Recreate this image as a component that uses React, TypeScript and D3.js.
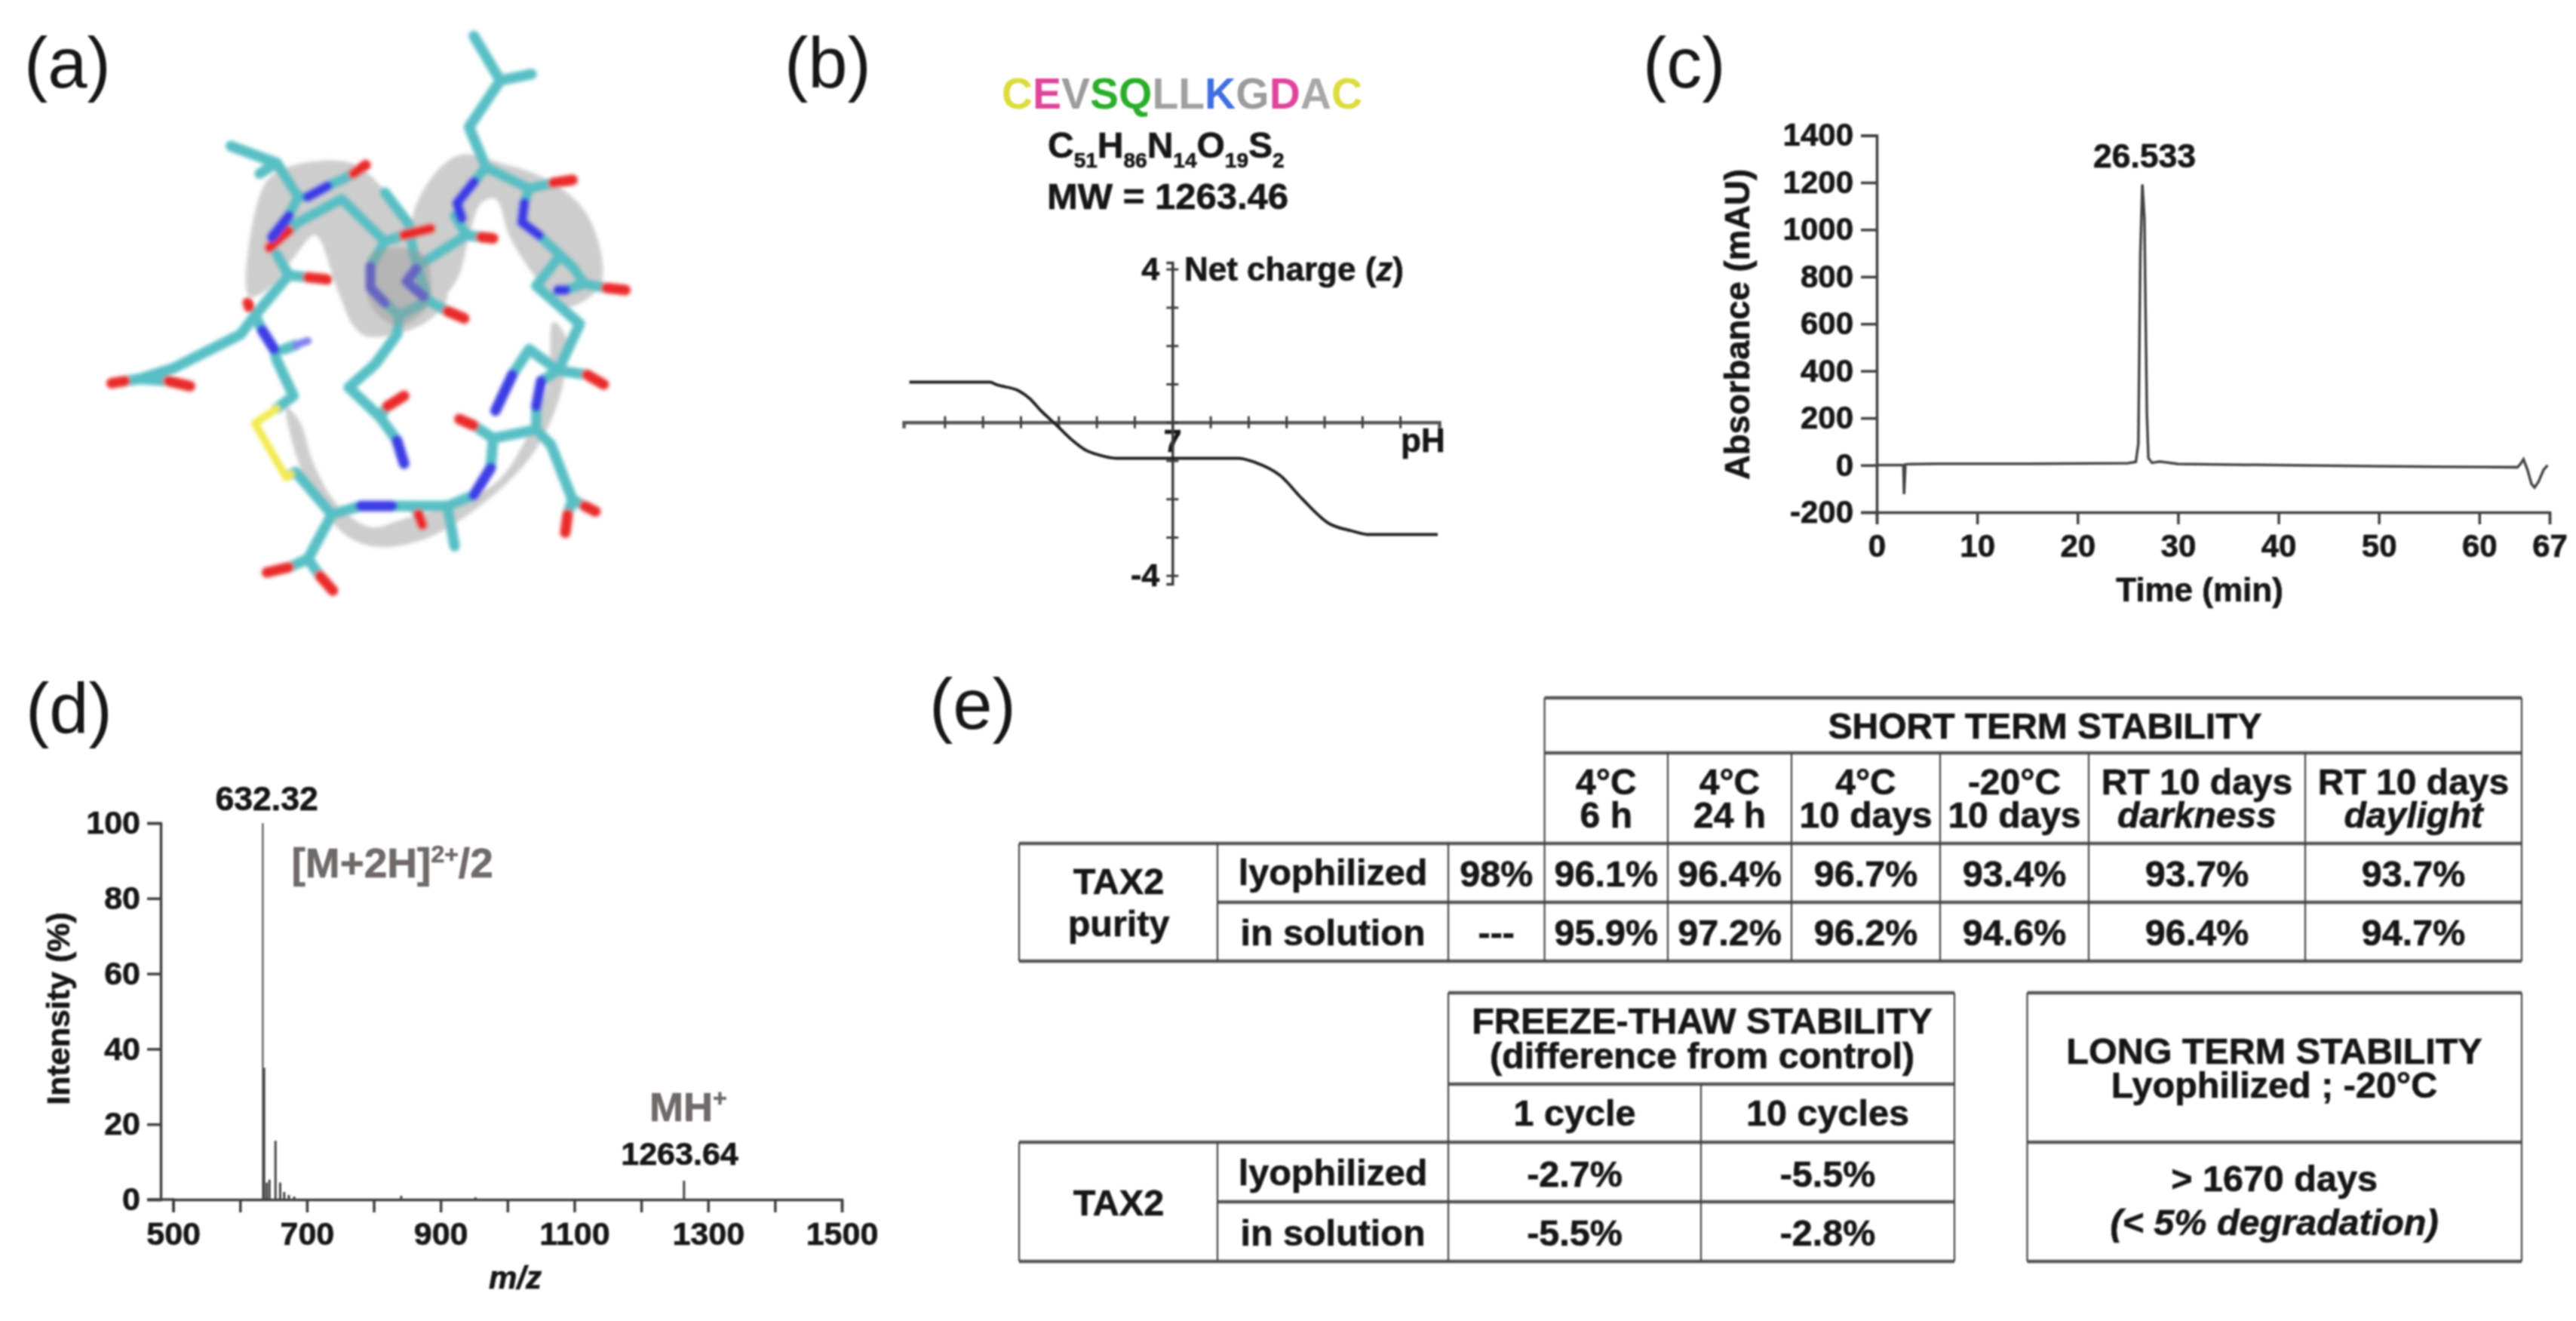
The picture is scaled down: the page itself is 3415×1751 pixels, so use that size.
import React, { useEffect, useRef } from 'react';
import * as d3 from 'd3';

// panel b
const sequence = ['C', 'E', 'V', 'S', 'Q', 'L', 'L', 'K', 'G', 'D', 'A', 'C'];
const residueColors = ['#dcdc3c', '#e0449c', '#9c9c9c', '#2cae2c', '#2cae2c', '#a0a0a0', '#a0a0a0', '#4070e0', '#9c9c9c', '#e0449c', '#a8a8a8', '#dcdc3c'];
const formulaParts = [['C', '51'], ['H', '86'], ['N', '14'], ['O', '19'], ['S', '2']];
const chargePH = [0.07, 2.19, 2.37, 2.95, 3.24, 3.53, 3.92, 4.35, 4.7, 5.05, 5.52, 8.73, 9.19, 9.84, 10.42, 11.12, 11.7, 12.17, 13.99];
const chargeZ = [1.05, 1.05, 0.98, 0.82, 0.62, 0.31, -0.05, -0.46, -0.72, -0.85, -0.94, -0.94, -1.05, -1.39, -2.0, -2.64, -2.83, -2.93, -2.93];

// panel c
const hplcTime = [0, 2.5, 2.65, 2.72, 2.85, 3.2, 6, 15, 25, 25.8, 26.05, 26.25, 26.45, 26.65, 26.9, 27.05, 27.4, 28.2, 30, 40, 50, 60, 63.8, 64.1, 64.4, 64.8, 65.2, 65.5, 65.9, 66.4, 66.8];
const hplcAbs = [0, 0, 0, -123, 3, 4, 6, 6, 8, 14, 90, 900, 1192, 1050, 220, 30, 10, 15, 5, 0, -5, -8, -9, 5, 25, -20, -80, -95, -70, -20, 0];
const hplcYTicks = [-200, 0, 200, 400, 600, 800, 1000, 1200, 1400];
const hplcXTicks = [0, 10, 20, 30, 40, 50, 60, 67];

// panel d
const peakMz = [500, 634, 636, 640, 644, 653, 660, 666, 673, 681, 841, 952, 1264];
const peakIntensity = [0.4, 100, 35, 4.5, 5.3, 15.6, 4.5, 2, 1.2, 0.8, 1, 0.6, 5];
const msYTicks = [0, 20, 40, 60, 80, 100];
const msXTicks = [500, 600, 700, 800, 900, 1000, 1100, 1200, 1300, 1400, 1500];

// panel e
const shortHeads = [['4°C', '6 h'], ['4°C', '24 h'], ['4°C', '10 days'], ['-20°C', '10 days'], ['RT 10 days', 'darkness'], ['RT 10 days', 'daylight']];
const shortLyophilized = ['96.1%', '96.4%', '96.7%', '93.4%', '93.7%', '93.7%'];
const shortSolution = ['95.9%', '97.2%', '96.2%', '94.6%', '96.4%', '94.7%'];
const freezeHeads = ['1 cycle', '10 cycles'];
const freezeLyophilized = ['-2.7%', '-5.5%'];
const freezeSolution = ['-5.5%', '-2.8%'];

// panel a
const ribbons = [
  [[518, 700], [530, 500], [560, 420], [610, 390], [730, 385], [800, 450], [860, 540], [890, 640], [930, 700], [880, 765], [765, 795], [735, 770], [700, 680], [655, 555], [610, 610], [560, 680]],
  [[855, 530], [900, 415], [960, 365], [1040, 385], [1130, 420], [1210, 490], [1250, 600], [1245, 680], [1170, 725], [1110, 650], [1060, 560], [1030, 470], [1000, 480], [975, 560], [950, 660], [900, 720], [880, 640]],
  [[1150, 760], [1178, 800], [1172, 900], [1125, 1040], [1050, 1145], [900, 1265], [790, 1292], [720, 1265], [660, 1180], [620, 1090], [595, 960], [625, 1000], [650, 1090], [700, 1190], [770, 1245], [840, 1225], [960, 1185], [1040, 1130], [1105, 1010], [1140, 900]]
];
const tealBonds = [
  [[985, 85], [1040, 190], [975, 300], [1010, 395], [1100, 445], [1150, 432]],
  [[1040, 190], [1105, 175]],
  [[1010, 395], [985, 430]],
  [[945, 510], [970, 555], [880, 620], [865, 635]],
  [[970, 555], [1000, 560]],
  [[1100, 445], [1090, 480]],
  [[1120, 555], [1190, 630], [1215, 670], [1260, 680]],
  [[1215, 670], [1175, 685]],
  [[1160, 610], [1115, 675], [1205, 765], [1160, 875], [1100, 825], [1065, 885]],
  [[1160, 875], [1220, 885]],
  [[1160, 875], [1125, 900]],
  [[1115, 960], [1115, 1015], [1145, 1050], [1190, 1180], [1215, 1195]],
  [[1190, 1180], [1180, 1215]],
  [[1115, 1015], [1025, 1035], [985, 1005]],
  [[1025, 1035], [1020, 1105]],
  [[985, 1170], [930, 1195], [945, 1290]],
  [[930, 1195], [860, 1195], [870, 1215]],
  [[860, 1195], [815, 1195]],
  [[750, 1195], [690, 1215], [615, 1115], [605, 1120]],
  [[690, 1215], [640, 1320], [600, 1340]],
  [[640, 1320], [665, 1360]],
  [[575, 965], [610, 935], [575, 850], [570, 825]],
  [[545, 780], [530, 745], [600, 650], [640, 655]],
  [[600, 650], [575, 600]],
  [[530, 745], [500, 790], [360, 870], [290, 895], [260, 900]],
  [[290, 895], [350, 900]],
  [[590, 825], [615, 815]],
  [[480, 345], [575, 385], [540, 410]],
  [[575, 385], [620, 465], [640, 465]],
  [[680, 440], [710, 425], [735, 410]],
  [[620, 465], [600, 510]],
  [[710, 470], [620, 525], [600, 545]],
  [[710, 470], [800, 570], [840, 555]],
  [[800, 570], [770, 630]],
  [[800, 715], [830, 745], [825, 790], [780, 860], [725, 915], [790, 985], [805, 960]],
  [[790, 985], [825, 1040]],
  [[830, 745], [890, 710], [930, 735]],
  [[800, 455], [850, 530], [860, 600], [890, 710]]
];
const redBonds = [
  [[1150, 432], [1190, 425]], [[1000, 560], [1025, 563]], [[1260, 680], [1300, 685]], [[930, 735], [965, 752]],
  [[840, 555], [895, 540]], [[735, 410], [760, 390]], [[600, 545], [560, 585]], [[640, 655], [680, 660]],
  [[515, 715], [518, 725]], [[260, 900], [232, 905]], [[350, 900], [395, 912]], [[1220, 885], [1255, 908]],
  [[805, 960], [840, 935]], [[985, 1005], [955, 990]], [[1215, 1195], [1238, 1208]], [[1180, 1215], [1175, 1258]],
  [[870, 1215], [878, 1240]], [[600, 1340], [555, 1352]], [[665, 1360], [692, 1395]]
];
const blueBonds = [
  [[985, 430], [950, 480], [960, 515]], [[1090, 480], [1085, 525], [1120, 555]], [[865, 635], [845, 665], [880, 700]],
  [[770, 630], [770, 680], [800, 715]], [[1160, 685], [1175, 685]], [[1065, 885], [1030, 970]], [[825, 1040], [840, 1095]],
  [[1125, 900], [1115, 960]], [[1020, 1105], [985, 1170]], [[815, 1195], [750, 1195]], [[570, 825], [545, 780]],
  [[600, 510], [565, 560]], [[640, 465], [680, 440]]
];
const paleBlueBonds = [[[615, 815], [640, 805]]];
const yellowBonds = [[[605, 1120], [595, 1128], [530, 1000], [575, 965]]];
const ribbonOverlay = [[770, 600], [880, 600], [890, 720], [830, 770], [770, 720]];

const FONT = '"Liberation Sans", Arial, sans-serif';
const AXIS = '#3c3c3c';
const INK = '#161616';

export default function App() {
  const ref = useRef<SVGSVGElement>(null);

  useEffect(() => {
    const root = d3.select(ref.current);
    root.selectAll('*').remove();

    const defs = root.append('defs');
    const blur = (id: string, sd: number) =>
      defs.append('filter').attr('id', id).attr('filterUnits', 'userSpaceOnUse')
        .attr('x', 0).attr('y', 0).attr('width', 3415).attr('height', 1751)
        .append('feGaussianBlur').attr('stdDeviation', sd);
    blur('soft', 1.2);
    blur('softer', 2.4);

    const svg = root.append('g').attr('filter', 'url(#soft)').attr('font-family', FONT);

    const text = (x: number, y: number, s: string, o: any = {}) => {
      const t = svg.append('text').attr('x', x).attr('y', y).text(s)
        .attr('font-size', o.size ?? 48.5)
        .attr('font-weight', o.weight ?? 'bold')
        .attr('font-style', o.italic ? 'italic' : 'normal')
        .attr('text-anchor', o.anchor ?? 'middle')
        .attr('fill', o.fill ?? INK);
      if (o.weight !== 'normal') t.attr('stroke', o.fill ?? INK).attr('stroke-width', 0.7);
      return t;
    };

    // panel letters
    text(32, 116, '(a)', { size: 94, weight: 'normal', anchor: 'start' });
    text(1040, 116, '(b)', { size: 94, weight: 'normal', anchor: 'start' });
    text(2178, 116, '(c)', { size: 94, weight: 'normal', anchor: 'start' });
    text(34, 972, '(d)', { size: 94, weight: 'normal', anchor: 'start' });
    text(1232, 966, '(e)', { size: 94, weight: 'normal', anchor: 'start' });

    const styleAxis = (g: any, size: number) => {
      g.selectAll('path,line').attr('stroke', AXIS).attr('stroke-width', 3.5);
      g.selectAll('text').attr('font-family', FONT).attr('font-size', size).attr('font-weight', 'bold')
        .attr('fill', INK).attr('stroke', INK).attr('stroke-width', 0.7);
      // unlabelled ticks keep only their line
      g.selectAll('text').filter(function (this: any) { return !this.textContent; }).remove();
    };

    // (a) molecule
    const mx = d3.scaleLinear().domain([0, 1568]).range([0, 1000]);
    const my = d3.scaleLinear().domain([0, 1568]).range([0, 880]);
    const mol = root.append('g').attr('filter', 'url(#softer)');
    const bondLine = d3.line<number[]>().x(d => mx(d[0])).y(d => my(d[1]));
    const ribbonLine = d3.line<number[]>().x(d => mx(d[0])).y(d => my(d[1])).curve(d3.curveCatmullRomClosed);
    mol.selectAll('path.ribbon').data(ribbons).join('path').attr('class', 'ribbon')
      .attr('d', d => ribbonLine(d)).attr('fill', '#cdcdcd').attr('stroke', 'none');
    const drawBonds = (set: number[][][], color: string, w: number) =>
      mol.append('g').selectAll('path').data(set).join('path')
        .attr('d', d => bondLine(d)).attr('fill', 'none').attr('stroke', color)
        .attr('stroke-width', w).attr('stroke-linecap', 'round').attr('stroke-linejoin', 'round');
    drawBonds(tealBonds, '#58bfc4', 14);
    drawBonds(redBonds, '#ea2a2a', 14);
    drawBonds(blueBonds, '#3c3ce4', 14);
    drawBonds(paleBlueBonds, '#8080ee', 10);
    drawBonds(yellowBonds, '#f2ea50', 10);
    mol.append('path').attr('d', ribbonLine(ribbonOverlay)).attr('fill', '#9a9a9a').attr('opacity', 0.45);

    // (b) sequence + charge plot
    const seq = svg.append('text').attr('x', 1567).attr('y', 144).attr('text-anchor', 'middle')
      .attr('font-size', 57).attr('font-weight', 'bold');
    seq.selectAll('tspan').data(sequence).join('tspan').text(d => d).attr('fill', (_, i) => residueColors[i]);

    const formula = svg.append('text').attr('x', 1389).attr('y', 209).attr('font-size', 48).attr('font-weight', 'bold')
      .attr('fill', INK).attr('stroke', INK).attr('stroke-width', 0.7);
    formulaParts.forEach(([el, n], i) => {
      formula.append('tspan').text(el).attr('dy', i === 0 ? 0 : -13);
      formula.append('tspan').text(n).attr('font-size', 28).attr('dy', 13);
    });
    text(1548, 277, 'MW = 1263.46', { size: 49 });

    const px = d3.scaleLinear().domain([-0.08, 14.03]).range([1198, 1908]);
    const pz = d3.scaleLinear().domain([-4.22, 4.17]).range([774, 348]);
    const pxAxis = svg.append('g').attr('transform', `translate(0,${pz(0)})`)
      .call(d3.axisBottom(px).tickValues(d3.range(1, 14)).tickSizeOuter(0).tickSize(8).tickPadding(1)
        .tickFormat((d: any) => (d === 7 ? '7' : '')));
    styleAxis(pxAxis, 43);
    pxAxis.selectAll('.tick line').attr('y1', -8).attr('y2', 8).attr('stroke-width', 3);
    pxAxis.select('.domain').attr('stroke-width', 4.5).attr('stroke', '#555');
    const pzAxis = svg.append('g').attr('transform', `translate(${px(7)},0)`)
      .call(d3.axisLeft(pz).tickValues(d3.range(-4, 5)).tickSizeOuter(0).tickSize(8).tickPadding(9)
        .tickFormat((d: any) => (Math.abs(d) === 4 ? `${d}` : '')));
    styleAxis(pzAxis, 43);
    pzAxis.selectAll('.tick line').attr('x1', -8).attr('x2', 8).attr('stroke-width', 3);
    const chargeLine = d3.line<number>().x(d => px(d)).y((_, i) => pz(chargeZ[i])).curve(d3.curveMonotoneX);
    svg.append('path').attr('d', chargeLine(chargePH)).attr('fill', 'none').attr('stroke', '#222').attr('stroke-width', 4);
    const netLabel = text(1570, 372, 'Net charge (', { size: 44, anchor: 'start' });
    netLabel.append('tspan').text('z').attr('font-style', 'italic');
    netLabel.append('tspan').text(')');
    text(1857, 599, 'pH', { size: 44, anchor: 'start' });

    // (c) chromatogram
    const tx = d3.scaleLinear().domain([0, 67]).range([2488, 3380]);
    const ay = d3.scaleLinear().domain([-200, 1400]).range([679, 179.5]);
    const cy = svg.append('g').attr('transform', `translate(${tx(0)},0)`)
      .call(d3.axisLeft(ay).tickValues(hplcYTicks).tickSizeOuter(0).tickSize(21).tickPadding(10).tickFormat((d: any) => `${d}`));
    styleAxis(cy, 42);
    const cx = svg.append('g').attr('transform', `translate(0,${ay(-200)})`)
      .call(d3.axisBottom(tx).tickValues(hplcXTicks).tickSizeOuter(0).tickSize(16).tickPadding(13).tickFormat((d: any) => `${d}`));
    styleAxis(cx, 42);
    const hplcLine = d3.line<number>().x(d => tx(d)).y((_, i) => ay(hplcAbs[i]));
    svg.append('path').attr('d', hplcLine(hplcTime)).attr('fill', 'none').attr('stroke', '#444').attr('stroke-width', 3.5);
    text(2843, 222, '26.533', { size: 44.5 });
    text(2916, 797, 'Time (min)', { size: 44 });
    text(0, 0, 'Absorbance (mAU)', { size: 45.5 }).attr('x', null).attr('y', null).attr('transform', 'translate(2319,430) rotate(-90)');

    // (d) mass spectrum
    const mzx = d3.scaleLinear().domain([500, 1500]).range([229.6, 1116]);
    const iy = d3.scaleLinear().domain([0, 100]).range([1590, 1091]);
    const dy = svg.append('g').attr('transform', 'translate(213,0)')
      .call(d3.axisLeft(iy).tickValues(msYTicks).tickSizeOuter(0).tickSize(18).tickPadding(9).tickFormat((d: any) => `${d}`));
    styleAxis(dy, 43);
    const dx = svg.append('g').attr('transform', `translate(0,${iy(0)})`)
      .call(d3.axisBottom(mzx).tickValues(msXTicks).tickSizeOuter(0).tickSize(17).tickPadding(12)
        .tickFormat((d: any) => ((d - 500) % 200 === 0 ? `${d}` : '')));
    styleAxis(dx, 43);
    // x axis runs a little past 500 towards the y axis
    svg.append('line').attr('x1', 195).attr('x2', mzx(500)).attr('y1', iy(0)).attr('y2', iy(0)).attr('stroke', AXIS).attr('stroke-width', 3.5);
    svg.append('g').selectAll('line').data(peakMz).join('line')
      .attr('x1', d => mzx(d)).attr('x2', d => mzx(d)).attr('y1', iy(0)).attr('y2', (_, i) => iy(peakIntensity[i]))
      .attr('stroke', '#444').attr('stroke-width', (_, i) => (i === 1 ? 2 : 3));
    text(353.6, 1074, '632.32', { size: 44.5 });
    text(901, 1544, '1263.64', { size: 43 });
    const grey = '#6f6b6b';
    const ion = text(386.5, 1163, '[M+2H]', { size: 55, anchor: 'start', fill: grey });
    ion.append('tspan').text('2+').attr('font-size', 32).attr('dy', -20);
    ion.append('tspan').text('/2').attr('dy', 20);
    const mh = text(861, 1485.5, 'MH', { size: 54, anchor: 'start', fill: grey });
    mh.append('tspan').text('+').attr('font-size', 32).attr('dy', -20);
    text(683, 1708, 'm/z', { size: 42, italic: true });
    text(0, 0, 'Intensity (%)', { size: 43 }).attr('x', null).attr('y', null).attr('transform', 'translate(92,1337) rotate(-90)');

    // (e) tables
    const hRule = (x1: number, x2: number, y: number) =>
      svg.append('line').attr('x1', x1).attr('x2', x2).attr('y1', y).attr('y2', y).attr('stroke', '#555').attr('stroke-width', 4.5);
    const vRule = (x: number, y1: number, y2: number) =>
      svg.append('line').attr('x1', x).attr('x2', x).attr('y1', y1).attr('y2', y2).attr('stroke', '#444').attr('stroke-width', 2.2);
    const mid = (edges: number[], i: number) => (edges[i] + edges[i + 1]) / 2;

    // short term
    const shortCols = [2047.6, 2211, 2375, 2572, 2769, 3056, 3343];
    const left = [1351, 1614, 1920, 2047.6];
    const rows = [925, 998, 1118, 1196, 1274];
    hRule(shortCols[0], 3343, rows[0]);
    hRule(shortCols[0], 3343, rows[1]);
    hRule(left[0], 3343, rows[2]);
    hRule(left[1], 3343, rows[3]);
    hRule(left[0], 3343, rows[4]);
    shortCols.forEach((x, i) => vRule(x, i === 0 || i === 6 ? rows[0] : rows[1], rows[4]));
    left.slice(0, 3).forEach(x => vRule(x, rows[2], rows[4]));
    text(2711, 979, 'SHORT TERM STABILITY', { size: 48 });
    shortHeads.forEach((h, i) => {
      // two lines in one text element, the leading is tighter than the font
      const head = text(mid(shortCols, i), 1053, h[0], { size: 48 });
      head.append('tspan').text(h[1]).attr('x', mid(shortCols, i)).attr('dy', 44).attr('font-style', i > 3 ? 'italic' : 'normal');
    });
    text(1483, 1185, 'TAX2');
    text(1483, 1241, 'purity');
    text(mid(left, 1), 1173, 'lyophilized');
    text(mid(left, 1), 1253, 'in solution');
    text(mid(left, 2), 1175, '98%');
    text(mid(left, 2), 1253, '---');
    shortLyophilized.forEach((v, i) => text(mid(shortCols, i), 1175, v));
    shortSolution.forEach((v, i) => text(mid(shortCols, i), 1253, v));

    // freeze-thaw
    const freezeCols = [1920, 2255, 2591];
    const freezeLeft = [1351, 1614, 1920];
    const fr = [1316, 1437, 1514, 1593, 1672];
    hRule(1920, 2591, fr[0]);
    hRule(1920, 2591, fr[1]);
    hRule(1351, 2591, fr[2]);
    hRule(1614, 2591, fr[3]);
    hRule(1351, 2591, fr[4]);
    vRule(1920, fr[0], fr[4]);
    vRule(2591, fr[0], fr[4]);
    vRule(2255, fr[1], fr[4]);
    vRule(1351, fr[2], fr[4]);
    vRule(1614, fr[2], fr[4]);
    const freezeTitle = text(2256.6, 1370, 'FREEZE-THAW STABILITY');
    freezeTitle.append('tspan').text('(difference from control)').attr('x', 2256.6).attr('dy', 46);
    freezeHeads.forEach((h, i) => text(mid(freezeCols, i), 1492, h));
    text(1483, 1611, 'TAX2');
    text(mid(freezeLeft, 1), 1571, 'lyophilized');
    text(mid(freezeLeft, 1), 1651, 'in solution');
    freezeLyophilized.forEach((v, i) => text(mid(freezeCols, i), 1573, v));
    freezeSolution.forEach((v, i) => text(mid(freezeCols, i), 1651, v));

    // long term
    hRule(2687.5, 3343, fr[0]);
    hRule(2687.5, 3343, fr[2]);
    hRule(2687.5, 3343, fr[4]);
    vRule(2687.5, fr[0], fr[4]);
    vRule(3343, fr[0], fr[4]);
    const longTitle = text(3015, 1410, 'LONG TERM STABILITY');
    longTitle.append('tspan').text('Lyophilized ; -20°C').attr('x', 3015).attr('dy', 45);
    text(3015, 1579, '> 1670 days');
    text(3015, 1637, '(< 5% degradation)', { italic: true });
  }, []);

  return <svg ref={ref} width={3415} height={1751} style={{ position: 'absolute', left: 0, top: 0, display: 'block', background: '#fff' }} />;
}
